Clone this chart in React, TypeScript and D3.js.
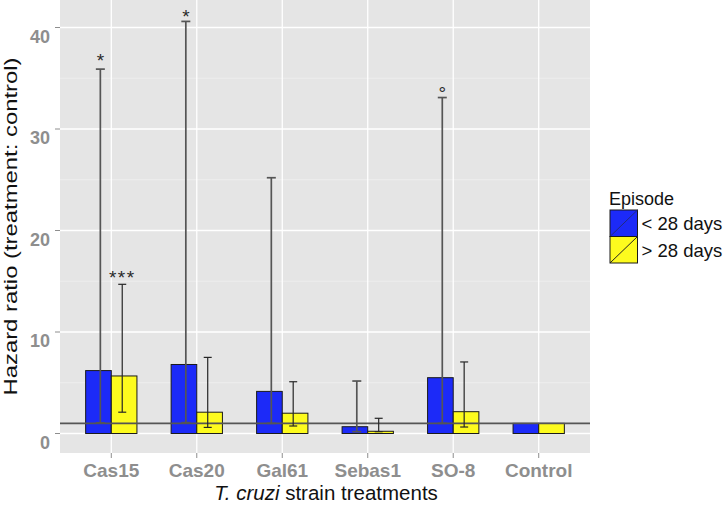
import React from "react";
import * as d3 from "d3";

const categories = ["Cas15", "Cas20", "Gal61", "Sebas1", "SO-8", "Control"];
const shortHR = [6.2, 6.8, 4.15, 0.67, 5.5, 1.0];
const shortLower: (number | null)[] = [1.05, 1.07, 1.0, 0.18, 1.0, null];
const shortUpper: (number | null)[] = [35.9, 40.6, 25.2, 5.17, 33.1, null];
const longHR = [5.67, 2.1, 2.0, 0.22, 2.15, 1.0];
const longLower: (number | null)[] = [2.1, 0.6, 0.74, 0.18, 0.64, null];
const longUpper: (number | null)[] = [14.7, 7.5, 5.1, 1.5, 7.05, null];
const groupLabels = ["< 28 days", "> 28 days"];
const yTicks = [0, 10, 20, 30, 40];
const yMinor = [5, 15, 25, 35];
const refLine = 1;
const annotCats = ["Cas15", "Cas20", "Cas15", "SO-8"];
const annotGroups = [0, 0, 1, 0];
const annotLabels = ["*", "*", "***", "°"];
const annotValues = [37.2, 41.5, 15.8, 33.9];

const W = 725;
const H = 506;
const P = { left: 60, right: 590, top: 0, bottom: 453 };
const FONT = "'Liberation Sans', Arial, Helvetica, sans-serif";
const BLUE = "#1c2af8";
const YELLOW = "#fdfb1e";
const TICKCOL = "#8e8e8e";

export default function App() {
  const x = d3
    .scaleBand<string>()
    .domain(categories)
    .range([P.left, P.right])
    .paddingInner(0)
    .paddingOuter(0.1);
  const step = x.step();
  const cx = (c: string) => (x(c) as number) + step / 2;
  const y = d3.scaleLinear().domain([-1.92, 42.71]).range([P.bottom, P.top]);

  const barW = 0.3 * step;
  const errOff = 0.128 * step;
  const groups = [
    { hr: shortHR, lo: shortLower, up: shortUpper, fill: BLUE, side: -1, cap: 9 },
    { hr: longHR, lo: longLower, up: longUpper, fill: YELLOW, side: 1, cap: 8 },
  ];

  return (
    <div style={{ position: "absolute", left: 0, top: 0 }}>
      <svg width={W} height={H} style={{ display: "block", background: "#fff" }}>
        <rect x={P.left} y={P.top} width={P.right - P.left} height={P.bottom - P.top} fill="#e5e5e5" />
        {yMinor.map((t) => (
          <line key={"mi" + t} x1={P.left} x2={P.right} y1={y(t)} y2={y(t)} stroke="#f0f0f0" strokeWidth={0.8} />
        ))}
        {yTicks.map((t) => (
          <line key={"ma" + t} x1={P.left} x2={P.right} y1={y(t)} y2={y(t)} stroke="#ffffff" strokeWidth={1.3} />
        ))}
        {categories.map((c) => (
          <line key={"vx" + c} x1={cx(c)} x2={cx(c)} y1={P.top} y2={P.bottom} stroke="#ffffff" strokeWidth={1.3} />
        ))}
        {groups.map((g, gi) =>
          categories.map((c, i) => {
            const x0 = g.side < 0 ? cx(c) - barW : cx(c);
            return (
              <rect
                key={"b" + gi + c}
                x={x0}
                y={y(g.hr[i])}
                width={barW}
                height={y(0) - y(g.hr[i])}
                fill={g.fill}
                stroke="#1a1a1a"
                strokeWidth={1}
              />
            );
          })
        )}
        <line x1={P.left} x2={P.right} y1={y(refLine)} y2={y(refLine)} stroke="#555555" strokeWidth={1.6} />
        {groups.map((g, gi) =>
          categories.map((c, i) => {
            const lo = g.lo[i];
            const up = g.up[i];
            if (lo == null || up == null) return null;
            const ex = cx(c) + g.side * errOff;
            const col = gi === 0 ? "#555555" : "#262626";
            const sw = gi === 0 ? 1.7 : 1.2;
            return (
              <g key={"e" + gi + c}>
                <line x1={ex} x2={ex} y1={y(lo)} y2={y(up)} stroke={col} strokeWidth={sw} />
                <line x1={ex - g.cap / 2} x2={ex + g.cap / 2} y1={y(up)} y2={y(up)} stroke={col} strokeWidth={sw} />
                <line x1={ex - g.cap / 2} x2={ex + g.cap / 2} y1={y(lo)} y2={y(lo)} stroke={col} strokeWidth={sw} />
              </g>
            );
          })
        )}
        {annotLabels.map((lab, i) => {
          const ex = cx(annotCats[i]) + (annotGroups[i] === 0 ? -1 : 1) * errOff;
          const fs = 19;
          const base = y(annotValues[i]) + 0.58 * fs;
          return (
            <text
              key={"an" + i}
              x={ex}
              y={base}
              textAnchor="middle"
              fontFamily={FONT}
              fontSize={fs}
              fill="#2a2a2a"
              letterSpacing={lab.length > 1 ? 1.5 : 0}
            >
              {lab}
            </text>
          );
        })}
        {yTicks.map((t) => (
          <g key={"yt" + t}>
            <line x1={P.left - 5} x2={P.left} y1={y(t)} y2={y(t)} stroke={TICKCOL} strokeWidth={1} />
            <text x={50} y={y(t) + 15} textAnchor="end" fontFamily={FONT} fontSize={18} fontWeight="bold" fill={TICKCOL}>
              {t}
            </text>
          </g>
        ))}
        {categories.map((c) => (
          <g key={"xt" + c}>
            <line x1={cx(c)} x2={cx(c)} y1={P.bottom} y2={P.bottom + 5} stroke={TICKCOL} strokeWidth={1} />
            <text x={cx(c)} y={477} textAnchor="middle" fontFamily={FONT} fontSize={19} fontWeight="bold" fill={TICKCOL}>
              {c}
            </text>
          </g>
        ))}
        <text
          transform={`translate(17,${(P.top + P.bottom) / 2}) rotate(-90)`}
          textAnchor="middle"
          fontFamily={FONT}
          fontSize={19}
          fill="#111"
          textLength={338}
          lengthAdjust="spacingAndGlyphs"
        >
          Hazard ratio (treatment: control)
        </text>
        <text x={326} y={499.5} textAnchor="middle" fontFamily={FONT} fontSize={20.5} fill="#111">
          <tspan fontStyle="italic">T. cruzi</tspan>
          <tspan> strain treatments</tspan>
        </text>
        <text x={609} y={204.5} fontFamily={FONT} fontSize={18} fill="#111">
          Episode
        </text>
        {groups.map((g, gi) => {
          const ky = 210 + gi * 26.5;
          return (
            <g key={"lg" + gi}>
              <rect x={610} y={ky} width={27.5} height={26.5} fill={g.fill} stroke="#1a1a1a" strokeWidth={1} />
              <line x1={610} y1={ky + 26.5} x2={637.5} y2={ky} stroke={gi === 0 ? "#222a80" : "#222"} strokeWidth={1} />
              <text x={641.5} y={ky + 20} fontFamily={FONT} fontSize={18.5} fill="#111">
                {groupLabels[gi]}
              </text>
            </g>
          );
        })}
      </svg>
    </div>
  );
}
